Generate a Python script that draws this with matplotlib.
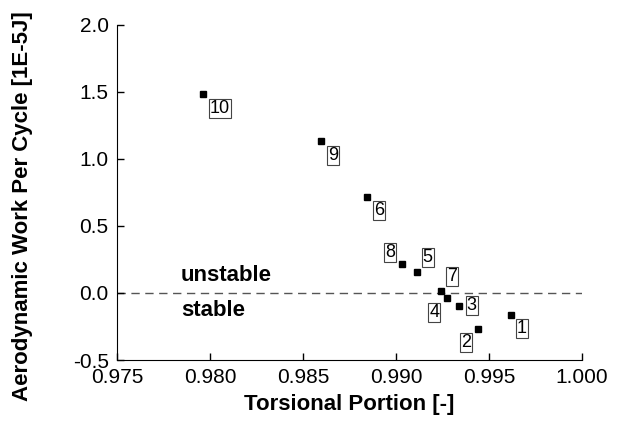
import matplotlib.pyplot as plt

plt.rcParams['font.family'] = ['Liberation Sans', 'DejaVu Sans']

# torsional portion and aerodynamic work per cycle, cases 1..10
case_ids = ['1', '2', '3', '4', '5', '6', '7', '8', '9', '10']
torsional = [0.99617, 0.99443, 0.99340, 0.99273, 0.99111, 0.98842, 0.99242, 0.99034, 0.98595, 0.97964]
work = [-0.161, -0.266, -0.094, -0.040, 0.160, 0.716, 0.018, 0.219, 1.130, 1.480]

# label offsets in points (dx, dy)
offsets = {'1': (8, -10), '2': (-9, -10), '3': (9, 0), '4': (-9, -10), '5': (8, 10),
           '6': (9, -10), '7': (8, 10), '8': (-9, 8), '9': (9, -10), '10': (12, -10)}

fig = plt.figure(figsize=(6.23, 4.26), dpi=100)
ax = fig.add_axes([0.1878, 0.1549, 0.7464, 0.7870])

ax.axhline(0, color='#555555', lw=1, ls=(0, (6, 4)), zorder=1)
ax.plot(torsional, work, 's', color='black', ms=5, zorder=3)

for cid, x, y in zip(case_ids, torsional, work):
    dx, dy = offsets[cid]
    ax.annotate(cid, (x, y), xytext=(dx, dy), textcoords='offset points',
                ha='center', va='center', fontsize=13,
                bbox=dict(boxstyle='square,pad=0.06', fc='white', ec='#444444', lw=0.8))

ax.text(0.97844, 0.13, 'unstable', fontsize=16, fontweight='bold', va='center')
ax.text(0.97844, -0.13, 'stable', fontsize=16, fontweight='bold', va='center')

ax.set_xlim(0.975, 1.000)
ax.set_ylim(-0.5, 2.0)
ax.set_xticks([0.975, 0.980, 0.985, 0.990, 0.995, 1.000])
ax.set_yticks([-0.5, 0.0, 0.5, 1.0, 1.5, 2.0])
ax.xaxis.set_major_formatter(plt.FormatStrFormatter('%.3f'))
ax.yaxis.set_major_formatter(plt.FormatStrFormatter('%.1f'))
ax.tick_params(direction='in', length=5, width=1, labelsize=15, pad=6)
ax.spines['top'].set_visible(False)
ax.spines['right'].set_visible(False)

ax.set_xlabel('Torsional Portion [-]', fontsize=16, fontweight='bold')
ax.set_ylabel('Aerodynamic Work Per Cycle [1E-5J]', fontsize=16, fontweight='bold')
ax.xaxis.set_label_coords(0.5, -0.10)
ax.yaxis.set_label_coords(-0.181, 0.46)

fig.savefig('out.png', dpi=100)
